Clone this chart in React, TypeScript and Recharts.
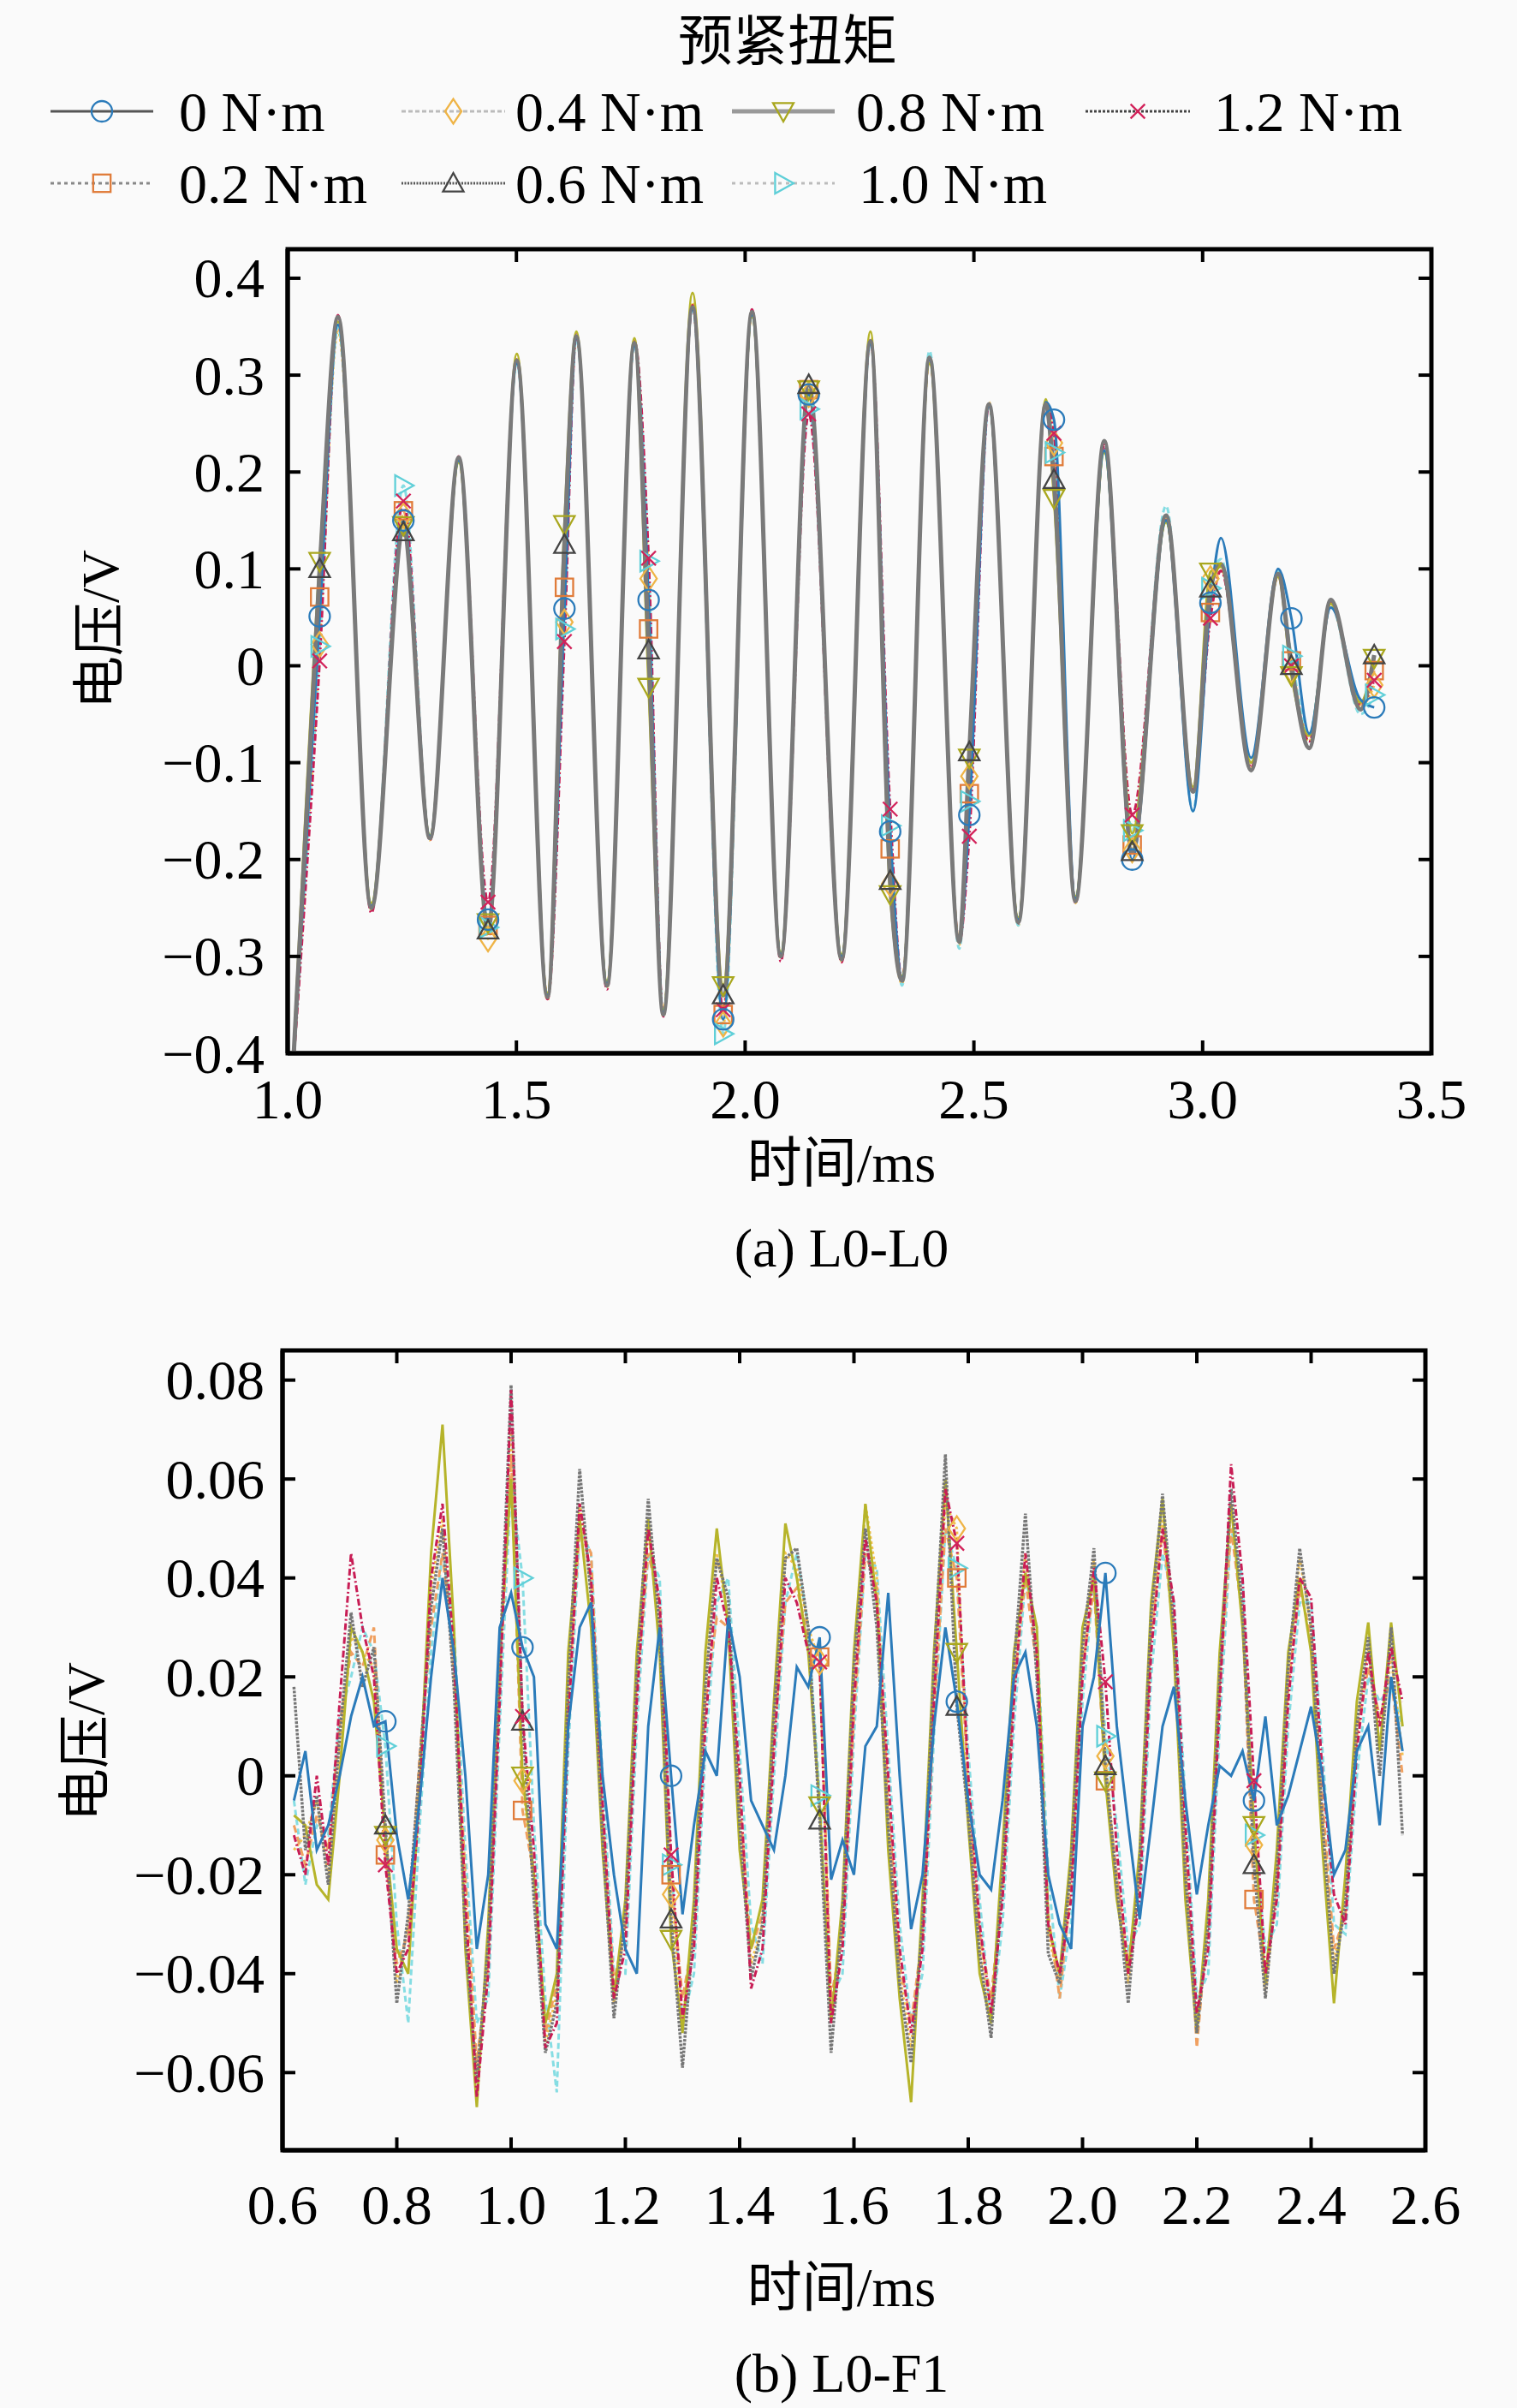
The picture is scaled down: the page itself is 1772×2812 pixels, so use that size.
import React from 'react'
import { LineChart, Line, XAxis, YAxis, ReferenceArea } from 'recharts'

const FONT = "'Liberation Serif', 'Times New Roman', 'Noto Sans CJK SC', serif"

// ---------- shared series info ----------
const SERIES_KEYS = ['s0', 's02', 's04', 's06', 's08', 's10', 's12']
const SERIES_LABELS = ['0 N·m', '0.2 N·m', '0.4 N·m', '0.6 N·m', '0.8 N·m', '1.0 N·m', '1.2 N·m']

// ---------- (a) L0-L0 ----------
const T1 = [
  1.01, 1.07, 1.11, 1.183, 1.253, 1.311, 1.374, 1.438, 1.501, 1.568,
  1.605, 1.631, 1.698, 1.758, 1.789, 1.821, 1.885, 1.952, 2.015, 2.078,
  2.139, 2.211, 2.274, 2.317, 2.343, 2.403, 2.468, 2.49, 2.533, 2.597,
  2.657, 2.675, 2.722, 2.785, 2.846, 2.92, 2.979, 3.017, 3.04, 3.106,
  3.165, 3.194, 3.233, 3.28, 3.345, 3.375,
]
const MARKS1 = [1.07, 1.253, 1.438, 1.605, 1.789, 1.952, 2.139, 2.317, 2.49, 2.675, 2.846, 3.017, 3.194, 3.375]

const A_S0 = [
  -0.43, 0.051, 0.352, -0.248, 0.15, -0.176, 0.212, -0.262, 0.312, -0.34,
  0.059, 0.338, -0.328, 0.33, 0.068, -0.358, 0.368, -0.365, 0.362, -0.298,
  0.28, -0.3, 0.332, -0.171, -0.322, 0.316, -0.285, -0.154, 0.268, -0.262,
  0.272, 0.254, -0.24, 0.222, -0.2, 0.15, -0.15, 0.065, 0.132, -0.095,
  0.1, 0.049, -0.07, 0.06, -0.035, -0.043,
]
const A_S02 = [
  -0.43, 0.071, 0.35, -0.25, 0.16, -0.178, 0.215, -0.268, 0.315, -0.342,
  0.081, 0.34, -0.33, 0.333, 0.038, -0.36, 0.372, -0.36, 0.365, -0.3,
  0.285, -0.303, 0.335, -0.189, -0.325, 0.318, -0.285, -0.132, 0.27, -0.265,
  0.27, 0.216, -0.243, 0.225, -0.185, 0.152, -0.128, 0.055, 0.1, -0.105,
  0.092, 0.005, -0.075, 0.065, -0.04, -0.005,
]
const A_S04 = [
  -0.43, 0.022, 0.345, -0.252, 0.155, -0.18, 0.213, -0.282, 0.318, -0.345,
  0.045, 0.342, -0.332, 0.335, 0.09, -0.362, 0.375, -0.37, 0.366, -0.302,
  0.28, -0.305, 0.338, -0.225, -0.328, 0.32, -0.288, -0.114, 0.272, -0.268,
  0.272, 0.23, -0.245, 0.225, -0.19, 0.15, -0.13, 0.09, 0.105, -0.105,
  0.095, -0.005, -0.078, 0.062, -0.042, -0.02,
]
const A_S06 = [
  -0.43, 0.1, 0.36, -0.25, 0.138, -0.178, 0.215, -0.273, 0.315, -0.342,
  0.125, 0.34, -0.33, 0.333, 0.016, -0.36, 0.37, -0.34, 0.365, -0.3,
  0.29, -0.303, 0.335, -0.222, -0.325, 0.318, -0.285, -0.089, 0.27, -0.265,
  0.27, 0.192, -0.243, 0.232, -0.192, 0.155, -0.13, 0.08, 0.105, -0.108,
  0.095, 0.0, -0.085, 0.068, -0.045, 0.011,
]
const A_S08 = [
  -0.43, 0.108, 0.355, -0.245, 0.145, -0.175, 0.21, -0.265, 0.322, -0.338,
  0.146, 0.345, -0.326, 0.338, -0.022, -0.355, 0.385, -0.33, 0.36, -0.296,
  0.285, -0.298, 0.345, -0.236, -0.32, 0.312, -0.282, -0.095, 0.268, -0.26,
  0.275, 0.173, -0.238, 0.22, -0.173, 0.148, -0.125, 0.097, 0.102, -0.1,
  0.092, -0.01, -0.072, 0.064, -0.038, 0.008,
]
const A_S10 = [
  -0.43, 0.02, 0.35, -0.25, 0.186, -0.178, 0.214, -0.27, 0.312, -0.342,
  0.038, 0.338, -0.33, 0.33, 0.108, -0.36, 0.37, -0.38, 0.365, -0.3,
  0.265, -0.303, 0.333, -0.165, -0.33, 0.325, -0.292, -0.14, 0.268, -0.268,
  0.27, 0.22, -0.243, 0.225, -0.17, 0.165, -0.15, 0.08, 0.11, -0.1,
  0.098, 0.01, -0.07, 0.062, -0.05, -0.03,
]
const A_S12 = [
  -0.43, 0.005, 0.362, -0.255, 0.17, -0.18, 0.216, -0.244, 0.316, -0.344,
  0.025, 0.342, -0.334, 0.335, 0.111, -0.362, 0.372, -0.355, 0.368, -0.305,
  0.26, -0.306, 0.336, -0.148, -0.325, 0.318, -0.285, -0.176, 0.27, -0.266,
  0.272, 0.24, -0.245, 0.228, -0.154, 0.15, -0.128, 0.049, 0.098, -0.105,
  0.094, 0.0, -0.078, 0.065, -0.04, -0.015,
]
const X1_TICKS = [1.0, 1.5, 2.0, 2.5, 3.0, 3.5]
const X1_LABELS = ['1.0', '1.5', '2.0', '2.5', '3.0', '3.5']
const Y1_TICKS = [-0.4, -0.3, -0.2, -0.1, 0, 0.1, 0.2, 0.3, 0.4]
const Y1_LABELS = ['−0.4', '−0.3', '−0.2', '−0.1', '0', '0.1', '0.2', '0.3', '0.4']

// ---------- (b) L0-F1 ----------
const T2 = [
  0.62, 0.64, 0.66, 0.68, 0.7, 0.72, 0.74, 0.76, 0.78, 0.8,
  0.82, 0.84, 0.86, 0.88, 0.9, 0.92, 0.94, 0.96, 0.98, 1.0,
  1.02, 1.04, 1.06, 1.08, 1.1, 1.12, 1.14, 1.16, 1.18, 1.2,
  1.22, 1.24, 1.26, 1.28, 1.3, 1.32, 1.34, 1.36, 1.38, 1.4,
  1.42, 1.44, 1.46, 1.48, 1.5, 1.52, 1.54, 1.56, 1.58, 1.6,
  1.62, 1.64, 1.66, 1.68, 1.7, 1.72, 1.74, 1.76, 1.78, 1.8,
  1.82, 1.84, 1.86, 1.88, 1.9, 1.92, 1.94, 1.96, 1.98, 2.0,
  2.02, 2.04, 2.06, 2.08, 2.1, 2.12, 2.14, 2.16, 2.18, 2.2,
  2.22, 2.24, 2.26, 2.28, 2.3, 2.32, 2.34, 2.36, 2.38, 2.4,
  2.42, 2.44, 2.46, 2.48, 2.5, 2.52, 2.54, 2.56,
]
const MARKS2 = [0.78, 1.02, 1.28, 1.54, 1.78, 2.04, 2.3]

const B_S0 = [
  -0.005, 0.005, -0.015, -0.01, 0.0, 0.012, 0.02, 0.01, 0.011, -0.012,
  -0.025, -0.005, 0.02, 0.04, 0.025, 0.0, -0.035, -0.02, 0.03, 0.037,
  0.026, 0.02, -0.03, -0.035, 0.01, 0.03, 0.035, 0.0, -0.02, -0.035,
  -0.04, 0.01, 0.03, 0.0, -0.028, -0.01, 0.005, 0.0, 0.032, 0.02,
  -0.005, -0.01, -0.015, 0.0, 0.022, 0.018, 0.028, -0.021, -0.013, -0.02,
  0.006, 0.01, 0.037, 0.0, -0.031, -0.02, 0.01, 0.03, 0.015, -0.005,
  -0.02, -0.023, -0.005, 0.02, 0.025, 0.01, -0.02, -0.03, -0.035, 0.01,
  0.02, 0.041, 0.01, -0.01, -0.029, -0.01, 0.01, 0.018, -0.005, -0.024,
  -0.01, 0.002, 0.0, 0.005, -0.005, 0.012, -0.01, -0.004, 0.005, 0.014,
  0.0, -0.02, -0.015, 0.005, 0.01, -0.01, 0.02, 0.005,
]
const B_S02 = [
  -0.01, -0.018, -0.008, -0.015, 0.01, 0.025, 0.022, 0.03, -0.016, -0.038,
  -0.032, 0.004, 0.03, 0.045, 0.022, -0.02, -0.058, -0.038, 0.018, 0.065,
  -0.007, -0.02, -0.052, -0.042, 0.015, 0.05, 0.045, -0.008, -0.042, -0.03,
  0.018, 0.045, 0.035, -0.02, -0.045, -0.032, 0.015, 0.032, 0.03, -0.005,
  -0.035, -0.028, 0.008, 0.035, 0.038, 0.028, 0.024, -0.045, -0.032, 0.012,
  0.045, 0.038, -0.005, -0.038, -0.05, -0.032, 0.012, 0.05, 0.04, -0.002,
  -0.032, -0.045, -0.022, 0.018, 0.04, 0.022, -0.028, -0.045, -0.022, 0.022,
  0.038, -0.001, -0.02, -0.038, -0.02, 0.028, 0.05, 0.028, -0.015, -0.055,
  -0.028, 0.018, 0.05, 0.032, -0.025, -0.04, -0.022, 0.018, 0.038, 0.028,
  -0.005, -0.035, -0.028, 0.008, 0.022, 0.012, 0.02, 0.0,
]
const B_S04 = [
  -0.015, -0.012, -0.005, -0.02, 0.005, 0.028, 0.025, 0.022, -0.013, -0.042,
  -0.03, 0.0, 0.038, 0.052, 0.02, -0.028, -0.06, -0.036, 0.02, 0.07,
  -0.001, -0.022, -0.054, -0.044, 0.02, 0.055, 0.038, -0.01, -0.046, -0.03,
  0.022, 0.05, 0.028, -0.024, -0.05, -0.028, 0.02, 0.045, 0.032, -0.008,
  -0.038, -0.03, 0.01, 0.045, 0.042, 0.03, 0.023, -0.048, -0.03, 0.018,
  0.055, 0.04, -0.008, -0.04, -0.055, -0.03, 0.018, 0.055, 0.05, -0.005,
  -0.034, -0.05, -0.02, 0.02, 0.045, 0.024, -0.032, -0.042, -0.02, 0.024,
  0.044, 0.004, -0.022, -0.042, -0.02, 0.03, 0.052, 0.03, -0.018, -0.05,
  -0.03, 0.02, 0.055, 0.032, -0.014, -0.044, -0.022, 0.02, 0.044, 0.03,
  -0.008, -0.038, -0.025, 0.01, 0.026, 0.006, 0.024, 0.004,
]
const B_S06 = [
  0.018, -0.015, -0.004, -0.022, 0.008, 0.033, 0.018, 0.026, -0.01, -0.046,
  -0.028, 0.002, 0.034, 0.05, 0.018, -0.032, -0.062, -0.034, 0.022, 0.079,
  0.011, -0.025, -0.056, -0.046, 0.018, 0.062, 0.036, -0.012, -0.049, -0.028,
  0.02, 0.056, 0.03, -0.029, -0.059, -0.03, 0.018, 0.044, 0.036, -0.01,
  -0.041, -0.03, 0.012, 0.044, 0.046, 0.03, -0.009, -0.056, -0.028, 0.022,
  0.05, 0.03, -0.01, -0.042, -0.058, -0.03, 0.022, 0.065, 0.014, -0.008,
  -0.036, -0.053, -0.02, 0.022, 0.053, 0.02, -0.036, -0.042, -0.018, 0.026,
  0.046, 0.002, -0.022, -0.046, -0.018, 0.032, 0.057, 0.03, -0.02, -0.052,
  -0.03, 0.02, 0.058, 0.034, -0.018, -0.045, -0.02, 0.022, 0.046, 0.03,
  -0.01, -0.04, -0.026, 0.01, 0.028, 0.0, 0.03, -0.012,
]
const B_S08 = [
  -0.008, -0.01, -0.022, -0.025, 0.0, 0.03, 0.025, 0.015, -0.012, -0.035,
  -0.04, -0.002, 0.045, 0.071, 0.03, -0.035, -0.067, -0.03, 0.025, 0.06,
  0.0, -0.02, -0.05, -0.04, 0.025, 0.052, 0.03, -0.015, -0.045, -0.025,
  0.025, 0.052, 0.025, -0.033, -0.052, -0.025, 0.025, 0.05, 0.03, -0.015,
  -0.035, -0.025, 0.015, 0.051, 0.04, 0.025, -0.006, -0.05, -0.025, 0.025,
  0.055, 0.035, -0.015, -0.045, -0.066, -0.025, 0.025, 0.06, 0.025, -0.01,
  -0.04, -0.05, -0.015, 0.025, 0.041, 0.03, -0.03, -0.04, -0.015, 0.03,
  0.04, -0.001, -0.025, -0.04, -0.015, 0.035, 0.056, 0.025, -0.025, -0.052,
  -0.025, 0.025, 0.055, 0.03, -0.01, -0.042, -0.015, 0.025, 0.04, 0.025,
  -0.015, -0.046, -0.02, 0.015, 0.031, 0.005, 0.031, 0.01,
]
const B_S10 = [
  -0.005, -0.022, -0.01, -0.012, 0.012, 0.02, 0.03, 0.025, 0.006, -0.03,
  -0.05, -0.01, 0.025, 0.045, 0.03, -0.015, -0.05, -0.045, 0.01, 0.06,
  0.04, -0.01, -0.045, -0.064, 0.005, 0.05, 0.045, 0.0, -0.04, -0.04,
  0.01, 0.045, 0.04, -0.018, -0.05, -0.04, 0.005, 0.035, 0.04, 0.005,
  -0.03, -0.038, 0.0, 0.035, 0.045, 0.03, -0.004, -0.045, -0.04, 0.008,
  0.045, 0.042, 0.005, -0.03, -0.05, -0.04, 0.008, 0.05, 0.042, 0.005,
  -0.025, -0.05, -0.03, 0.01, 0.04, 0.03, -0.02, -0.045, -0.03, 0.015,
  0.04, 0.008, -0.01, -0.035, -0.03, 0.02, 0.045, 0.035, -0.005, -0.045,
  -0.04, 0.01, 0.05, 0.04, -0.012, -0.035, -0.03, 0.01, 0.035, 0.035,
  0.005, -0.03, -0.032, 0.0, 0.02, 0.015, 0.018, 0.01,
]
const B_S12 = [
  -0.012, -0.02, 0.0, -0.018, 0.015, 0.045, 0.03, 0.02, -0.018, -0.04,
  -0.035, -0.005, 0.04, 0.055, 0.025, -0.025, -0.065, -0.04, 0.015, 0.078,
  0.012, -0.015, -0.055, -0.05, 0.01, 0.055, 0.04, -0.005, -0.045, -0.035,
  0.015, 0.05, 0.035, -0.016, -0.049, -0.035, 0.01, 0.04, 0.03, 0.0,
  -0.043, -0.035, 0.005, 0.04, 0.035, 0.025, 0.023, -0.05, -0.035, 0.015,
  0.048, 0.035, 0.0, -0.035, -0.052, -0.035, 0.015, 0.058, 0.047, 0.0,
  -0.03, -0.048, -0.025, 0.015, 0.045, 0.025, -0.03, -0.04, -0.025, 0.02,
  0.042, 0.019, -0.015, -0.04, -0.025, 0.025, 0.05, 0.035, -0.01, -0.048,
  -0.035, 0.015, 0.063, 0.04, -0.001, -0.04, -0.025, 0.015, 0.04, 0.036,
  0.0, -0.024, -0.03, 0.005, 0.025, 0.01, 0.026, 0.015,
]
const X2_TICKS = [0.6, 0.8, 1.0, 1.2, 1.4, 1.6, 1.8, 2.0, 2.2, 2.4, 2.6]
const X2_LABELS = ['0.6', '0.8', '1.0', '1.2', '1.4', '1.6', '1.8', '2.0', '2.2', '2.4', '2.6']
const Y2_TICKS = [-0.06, -0.04, -0.02, 0, 0.02, 0.04, 0.06, 0.08]
const Y2_LABELS = ['−0.06', '−0.04', '−0.02', '0', '0.02', '0.04', '0.06', '0.08']

// ---------- styles ----------
const STYLE: Record<string, { color: string; dash?: string; shape: string; mark: string; legend: string; legendDash?: string }> = {
  s0: { color: '#2b7bba', shape: 'circle', mark: '#2b7bba', legend: '#555', legendDash: undefined },
  s02: { color: '#f0a060', dash: '9 5', shape: 'square', mark: '#e07b39', legend: '#888', legendDash: '4 4' },
  s04: { color: '#f2c14e', dash: '3 3', shape: 'diamond', mark: '#efb446', legend: '#bbb', legendDash: '5 3' },
  s06: { color: '#767676', dash: '3 1.5', shape: 'triUp', mark: '#444', legend: '#555', legendDash: '2 1.5' },
  s08: { color: '#b6b42a', shape: 'triDown', mark: '#a9a71e', legend: '#999', legendDash: undefined },
  s10: { color: '#86dde3', dash: '7 4', shape: 'triRight', mark: '#5fcfd8', legend: '#bbb', legendDash: '4 5' },
  s12: { color: '#c81d55', dash: '8 3 2 3', shape: 'cross', mark: '#d2225a', legend: '#444', legendDash: '3 2' },
}

function Marker({ shape, cx, cy, color, r = 12 }: any) {
  const p = { fill: 'none', stroke: color, strokeWidth: 2.3 }
  switch (shape) {
    case 'circle':
      return <circle cx={cx} cy={cy} r={r} {...p} />
    case 'square':
      return <rect x={cx - r * 0.85} y={cy - r * 0.85} width={r * 1.7} height={r * 1.7} {...p} />
    case 'diamond':
      return <polygon points={`${cx},${cy - r * 1.2} ${cx + r * 0.8},${cy} ${cx},${cy + r * 1.2} ${cx - r * 0.8},${cy}`} {...p} />
    case 'triUp':
      return <polygon points={`${cx},${cy - r} ${cx + r},${cy + r * 0.8} ${cx - r},${cy + r * 0.8}`} {...p} />
    case 'triDown':
      return <polygon points={`${cx},${cy + r} ${cx + r},${cy - r * 0.8} ${cx - r},${cy - r * 0.8}`} {...p} />
    case 'triRight':
      return <polygon points={`${cx + r},${cy} ${cx - r * 0.8},${cy - r} ${cx - r * 0.8},${cy + r}`} {...p} />
    default:
      return (
        <g {...p}>
          <line x1={cx - r * 0.7} y1={cy - r * 0.7} x2={cx + r * 0.7} y2={cy + r * 0.7} />
          <line x1={cx - r * 0.7} y1={cy + r * 0.7} x2={cx + r * 0.7} y2={cy - r * 0.7} />
        </g>
      )
  }
}

const makeDot = (key: string, marks: number[]) => (props: any) => {
  const k = `${key}-${props.index}`
  if (props.cx == null || props.cy == null || !marks.includes(props.payload.t)) return <g key={k} />
  return (
    <g key={k}>
      <Marker shape={STYLE[key].shape} cx={props.cx} cy={props.cy} color={STYLE[key].mark} />
    </g>
  )
}

const XTick = ({ x, y, payload, ticks, labels, plotH, dy }: any) => {
  const label = labels[ticks.findIndex((v: number) => Math.abs(v - payload.value) < 1e-9)]
  return (
    <g>
      <line x1={x} x2={x} y1={y} y2={y - 15} stroke="#000" strokeWidth={4} />
      <line x1={x} x2={x} y1={y - plotH} y2={y - plotH + 15} stroke="#000" strokeWidth={4} />
      <text x={x} y={y + dy} textAnchor="middle" dominantBaseline="central" fontFamily={FONT} fontSize={66} fill="#000">
        {label}
      </text>
    </g>
  )
}

const YTick = ({ x, y, payload, ticks, labels, plotW, gap }: any) => {
  const label = labels[ticks.findIndex((v: number) => Math.abs(v - payload.value) < 1e-9)]
  return (
    <g>
      <line x1={x} x2={x + 15} y1={y} y2={y} stroke="#000" strokeWidth={4} />
      <line x1={x + plotW} x2={x + plotW - 15} y1={y} y2={y} stroke="#000" strokeWidth={4} />
      <text x={x - gap} y={y} textAnchor="end" dominantBaseline="central" fontFamily={FONT} fontSize={66} fill="#000">
        {label}
      </text>
    </g>
  )
}

const rows1 = T1.map((t, i) => ({
  t, s0: A_S0[i], s02: A_S02[i], s04: A_S04[i], s06: A_S06[i], s08: A_S08[i], s10: A_S10[i], s12: A_S12[i],
}))
const rows2 = T2.map((t, i) => ({
  t, s0: B_S0[i], s02: B_S02[i], s04: B_S04[i], s06: B_S06[i], s08: B_S08[i], s10: B_S10[i], s12: B_S12[i],
}))

const ORDER1 = ['s02', 's04', 's10', 's12', 's08', 's0', 's06']
const ORDER2 = ['s10', 's04', 's02', 's08', 's06', 's12', 's0']

function ChartA() {
  const plotW = 1336
  const plotH = 939
  return (
    <LineChart width={1772} height={1500} data={rows1} margin={{ top: 291, left: 276, right: 100, bottom: 240 }}>
      <XAxis
        dataKey="t" type="number" domain={[1.0, 3.5]} ticks={X1_TICKS} interval={0} allowDataOverflow
        height={30} tickSize={0} tickMargin={0} tickLine={false}
        axisLine={{ stroke: '#000', strokeWidth: 5 }}
        tick={(p: any) => <XTick {...p} ticks={X1_TICKS} labels={X1_LABELS} plotH={plotH} dy={53} />}
      />
      <YAxis
        type="number" domain={[-0.4, 0.43]} ticks={Y1_TICKS} interval={0} allowDataOverflow
        width={60} tickSize={0} tickMargin={0} tickLine={false}
        axisLine={{ stroke: '#000', strokeWidth: 5 }}
        tick={(p: any) => <YTick {...p} ticks={Y1_TICKS} labels={Y1_LABELS} plotW={plotW} gap={27} />}
      />
      <ReferenceArea x1={1.0} x2={3.5} y1={-0.4} y2={0.43} fill="none" stroke="#000" strokeWidth={5} ifOverflow="visible" />
      {ORDER1.map((k) => (
        <Line
          key={k} dataKey={k} type="monotone" isAnimationActive={false}
          stroke={k === 's06' ? '#7a7a7a' : STYLE[k].color}
          strokeWidth={k === 's06' ? 5 : 3}
          strokeDasharray={k === 's06' ? undefined : STYLE[k].dash}
          dot={makeDot(k, MARKS1)} activeDot={false}
        />
      ))}
    </LineChart>
  )
}

function ChartB() {
  const plotW = 1335
  const plotH = 934
  return (
    <LineChart width={1772} height={1312} data={rows2} margin={{ top: 77, left: 270, right: 107, bottom: 271 }}>
      <XAxis
        dataKey="t" type="number" domain={[0.6, 2.6]} ticks={X2_TICKS} interval={0} allowDataOverflow
        height={30} tickSize={0} tickMargin={0} tickLine={false}
        axisLine={{ stroke: '#000', strokeWidth: 5 }}
        tick={(p: any) => <XTick {...p} ticks={X2_TICKS} labels={X2_LABELS} plotH={plotH} dy={63} />}
      />
      <YAxis
        type="number" domain={[-0.0757, 0.086]} ticks={Y2_TICKS} interval={0} allowDataOverflow
        width={60} tickSize={0} tickMargin={0} tickLine={false}
        axisLine={{ stroke: '#000', strokeWidth: 5 }}
        tick={(p: any) => <YTick {...p} ticks={Y2_TICKS} labels={Y2_LABELS} plotW={plotW} gap={21} />}
      />
      <ReferenceArea x1={0.6} x2={2.6} y1={-0.0757} y2={0.086} fill="none" stroke="#000" strokeWidth={5} ifOverflow="visible" />
      {ORDER2.map((k) => (
        <Line
          key={k} dataKey={k} type="linear" isAnimationActive={false}
          stroke={STYLE[k].color} strokeWidth={k === 's06' ? 3.5 : 3} strokeDasharray={STYLE[k].dash}
          dot={makeDot(k, MARKS2)} activeDot={false}
        />
      ))}
    </LineChart>
  )
}

// legend layout: [series, lineStart, lineEnd, textX, rowY]
const LEGEND_ITEMS: [string, number, number, number, number][] = [
  ['s0', 59, 179, 209, 130],
  ['s04', 469, 590, 602, 130],
  ['s08', 855, 975, 1000, 130],
  ['s12', 1268, 1390, 1418, 130],
  ['s02', 59, 179, 209, 214],
  ['s06', 469, 590, 602, 214],
  ['s10', 855, 975, 1003, 214],
]

function Overlay() {
  const txt = { fontFamily: FONT, fill: '#000', dominantBaseline: 'central' as const }
  return (
    <svg width={1772} height={2812} style={{ position: 'absolute', left: 0, top: 0, pointerEvents: 'none' }}>
      <text x={920} y={48} textAnchor="middle" fontSize={64} {...txt}>预紧扭矩</text>
      {LEGEND_ITEMS.map(([k, x1, x2, tx, y]) => (
        <g key={k}>
          <line x1={x1} x2={x2} y1={y} y2={y} stroke={STYLE[k].legend} strokeWidth={k === 's08' ? 5 : 3} strokeDasharray={STYLE[k].legendDash} />
          <Marker shape={STYLE[k].shape} cx={(x1 + x2) / 2} cy={y} color={STYLE[k].mark} />
          <text x={tx} y={y} fontSize={66} {...txt}>{SERIES_LABELS[SERIES_KEYS.indexOf(k)]}</text>
        </g>
      ))}
      <text x={983} y={1358} textAnchor="middle" fontSize={64} {...txt}>时间/ms</text>
      <text x={983} y={1457} textAnchor="middle" fontSize={64} {...txt}>(a) L0-L0</text>
      <text x={117} y={735} textAnchor="middle" fontSize={62} transform="rotate(-90 117 735)" {...txt}>电压/V</text>
      <text x={983} y={2671} textAnchor="middle" fontSize={64} {...txt}>时间/ms</text>
      <text x={983} y={2771} textAnchor="middle" fontSize={64} {...txt}>(b) L0-F1</text>
      <text x={100} y={2034} textAnchor="middle" fontSize={62} transform="rotate(-90 100 2034)" {...txt}>电压/V</text>
    </svg>
  )
}

export default function App() {
  return (
    <div style={{ position: 'absolute', left: 0, top: 0, width: 1772, height: 2812, background: '#fafafa', overflow: 'hidden' }}>
      <div style={{ position: 'absolute', left: 0, top: 0 }}>
        <ChartA />
      </div>
      <div style={{ position: 'absolute', left: 0, top: 1500 }}>
        <ChartB />
      </div>
      <Overlay />
    </div>
  )
}
